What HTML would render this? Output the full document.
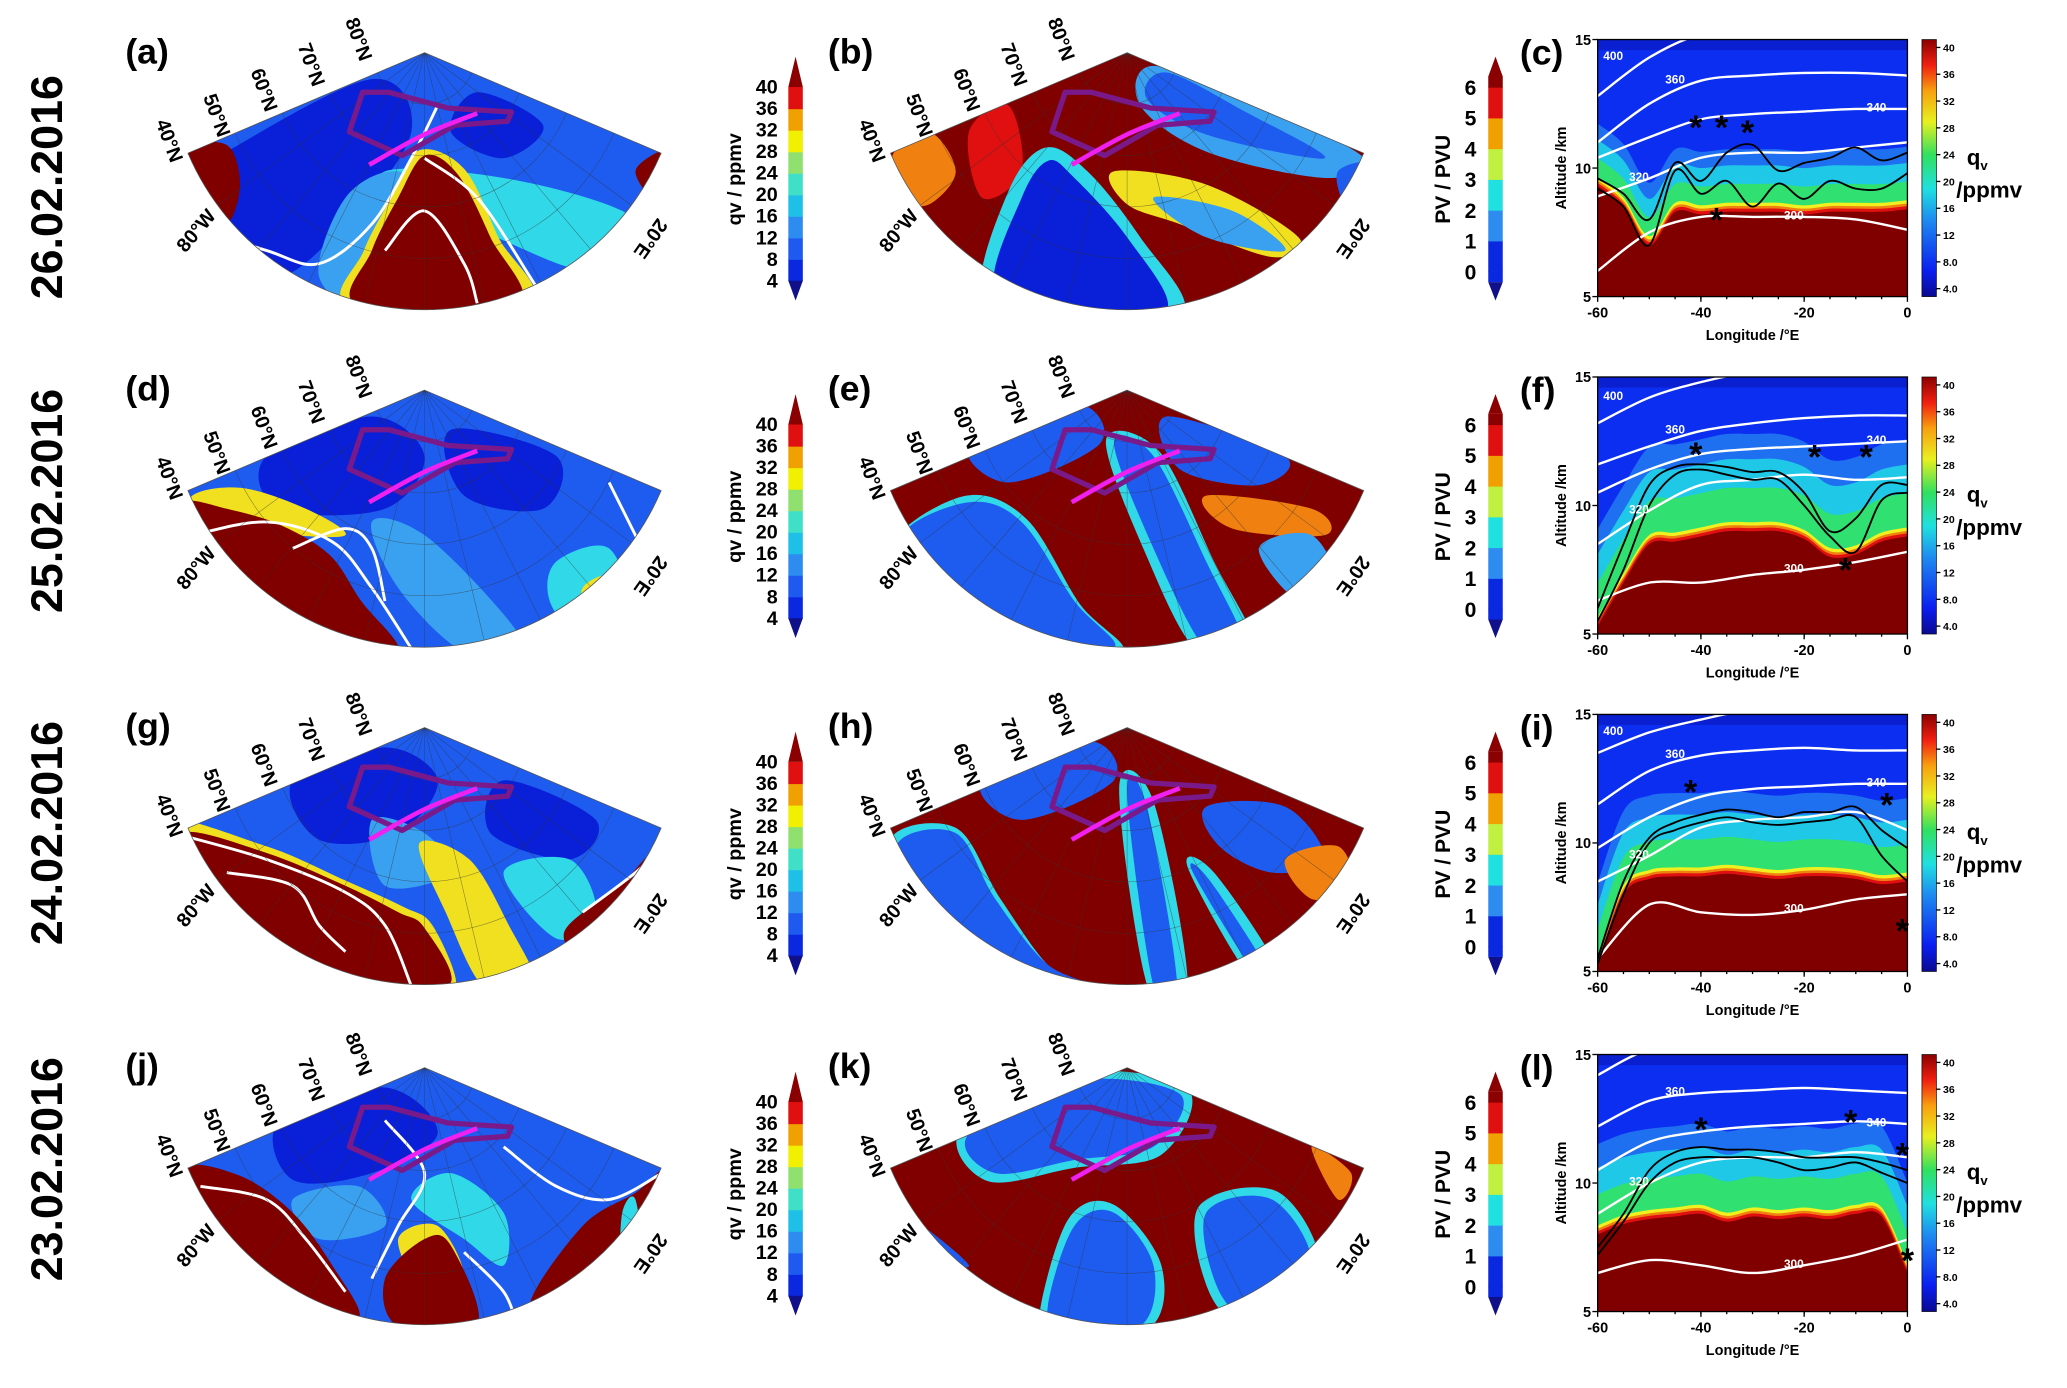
<!DOCTYPE html>
<html><head><meta charset="utf-8">
<style>
html,body{margin:0;padding:0;background:#fff;}
svg{display:block;font-family:"Liberation Sans",sans-serif;}
</style></head>
<body>
<svg id="fig" width="2067" height="1388" viewBox="0 0 1568 1053" xmlns="http://www.w3.org/2000/svg">
<defs>
<linearGradient id="jet" x1="0" y1="1" x2="0" y2="0">
<stop offset="0" stop-color="#0a0a90"/><stop offset="0.1" stop-color="#0a1ef0"/><stop offset="0.3" stop-color="#1e8cf0"/><stop offset="0.42" stop-color="#20e0e0"/><stop offset="0.55" stop-color="#30e060"/><stop offset="0.68" stop-color="#e8f020"/><stop offset="0.8" stop-color="#f8a010"/><stop offset="0.9" stop-color="#f02010"/><stop offset="1" stop-color="#8b0000"/>
</linearGradient>
</defs>
</svg>
<script>
const NS='http://www.w3.org/2000/svg';
const svg=document.getElementById('fig');
function mk(tag,attrs,parent){const e=document.createElementNS(NS,tag);for(const k in attrs)e.setAttribute(k,attrs[k]);(parent||svg).appendChild(e);return e;}
function txt(s,attrs,parent){const e=mk('text',attrs,parent);e.textContent=s;return e;}

// ---------- data ----------
const dates=['26.02.2016','25.02.2016','24.02.2016','23.02.2016'];
const rowOffsets=[0,256,512,770];
const dateY=[142,380,632,887];
const thetaLon=[-60,-50,-40,-30,-20,-10,0];
const fineLon=[-60,-55,-50,-45,-40,-35,-30,-25,-20,-15,-10,-5,0];
const theta400=[[12.8,14.3,15.2,15.3,15.3,15.3,15.3],[13.2,14.2,14.8,15.2,15.3,15.3,15.3],[13.5,14.3,14.8,15.2,15.3,15.3,15.3],[14.2,15.2,15.3,15.3,15.3,15.3,15.3]];
const theta360=[[11.0,12.5,13.4,13.6,13.7,13.7,13.6],[11.6,12.3,12.9,13.2,13.4,13.5,13.5],[11.5,12.8,13.4,13.6,13.7,13.6,13.6],[12.2,13.2,13.5,13.6,13.7,13.6,13.5]];
const theta340=[[10.4,11.2,11.9,12.1,12.2,12.3,12.3],[10.5,11.4,12.0,12.2,12.3,12.4,12.5],[9.8,11.0,11.8,12.1,12.2,12.3,12.3],[10.5,11.6,12.0,12.2,12.3,12.4,12.3]];
const theta320=[[8.9,9.6,10.4,10.6,10.6,10.8,11.0],[8.5,9.8,10.8,11.0,11.2,11.0,11.1],[8.5,9.5,10.6,10.9,11.0,11.2,10.5],[8.8,10.0,10.8,11.0,11.0,11.2,11.0]];
const theta300=[[6.0,7.5,8.1,8.1,8.1,8.0,7.6],[6.3,7.0,7.0,7.3,7.5,7.8,8.2],[5.5,7.6,7.3,7.2,7.4,7.8,8.0],[6.5,7.0,6.8,6.5,6.8,7.2,7.8]];
const tropo1=[[9.6,9.0,8.0,10.2,9.5,10.6,10.9,9.9,10.2,10.4,10.8,10.3,10.6],[6.0,8.5,10.8,11.5,11.6,11.5,11.3,11.3,10.5,9.0,9.5,10.8,10.8],[5.5,8.5,10.2,10.8,11.1,11.3,11.2,11.0,11.2,11.2,11.4,10.5,9.8],[7.5,8.8,10.5,11.2,11.4,11.3,11.3,11.2,11.0,11.0,11.0,10.8,10.5]];
const tropo2=[[9.2,8.5,7.0,9.9,9.0,9.5,8.5,9.4,8.8,9.5,9.2,9.2,9.8],[5.5,7.5,10.0,11.2,11.4,11.2,11.0,11.0,10.0,8.8,8.2,10.2,10.5],[5.3,8.0,10.0,10.5,10.8,11.0,10.8,10.7,10.8,10.9,11.0,9.5,8.5],[7.2,8.5,10.0,10.8,11.0,11.0,11.0,10.8,10.5,10.6,10.8,10.4,10.0]];
const moistTop=[[9.3,8.5,7.0,8.3,8.2,8.3,8.3,8.3,8.2,8.3,8.3,8.3,8.4],[5.3,7.0,8.5,8.6,8.8,9.0,9.0,9.0,8.7,8.0,8.1,8.6,8.8],[5.2,8.0,8.6,8.7,8.7,8.8,8.7,8.6,8.7,8.7,8.6,8.4,8.5],[8.0,8.4,8.6,8.7,8.8,8.5,8.7,8.6,8.7,8.6,8.8,8.7,6.5]];
const bandThick=[1.8,2.8,2.4,2.6];
const stars=[[[-41,11.8],[-36,11.8],[-31,11.6],[-37,8.2]],[[-41,12.2],[-18,12.1],[-8,12.1],[-12,7.7]],[[-42,12.2],[-4,11.7],[-1,6.8]],[[-40,12.3],[-11,12.6],[-1,11.3],[0,7.2]]];
const qvTicks=['40','36','32','28','24','20','16','12','8','4'];
const qvTicks2=['40','36','32','28','24','20','16','12','8.0','4.0'];
const pvTicks=['6','5','4','3','2','1','0'];
const xTicks=[-60,-40,-20,0];
const yTicks=[5,10,15];

// ---------- helpers ----------
function smoothClosed(p){let d='M'+p[0][0]+','+p[0][1];const n=p.length;for(let i=0;i<n;i++){const p0=p[(i-1+n)%n],p1=p[i],p2=p[(i+1)%n],p3=p[(i+2)%n];d+=' C'+(p1[0]+(p2[0]-p0[0])/6)+','+(p1[1]+(p2[1]-p0[1])/6)+' '+(p2[0]-(p3[0]-p1[0])/6)+','+(p2[1]-(p3[1]-p1[1])/6)+' '+p2[0]+','+p2[1];}return d+'Z';}
function smoothOpen(p){let d='M'+p[0][0]+','+p[0][1];for(let i=0;i<p.length-1;i++){const p0=p[Math.max(i-1,0)],p1=p[i],p2=p[i+1],p3=p[Math.min(i+2,p.length-1)];d+=' C'+(p1[0]+(p2[0]-p0[0])/6)+','+(p1[1]+(p2[1]-p0[1])/6)+' '+(p2[0]-(p3[0]-p1[0])/6)+','+(p2[1]-(p3[1]-p1[1])/6)+' '+p2[0]+','+p2[1];}return d;}

// ---------- fans ----------
const B='#1e5cf0',DB='#0a20d8',LB='#3aa0f0',CY='#30d8e8',YE='#f0e020',OR='#f08010',RD='#e01010',DR='#800000';
const fans=[
 {cx:322,base:B,shapes:[[DB,[[-150,75],[-40,20],[-10,60],[-60,130],[-120,170],[-175,95]]],[DB,[[40,30],[90,55],[60,80],[20,60]]],[CY,[[-30,90],[60,95],[150,120],[170,150],[120,165],[40,135],[-20,125]]],[LB,[[-60,110],[-20,90],[10,120],[-40,190],[-80,170]]],[YE,[[130,160],[160,125],[186,78],[186,110],[165,175],[118,190]]],[RD,[[150,150],[170,110],[186,80],[180,140],[150,180]]],[DR,[[160,90],[178,75],[186,80],[175,110]]],[YE,[[-4,74],[30,88],[56,140],[78,190],[-56,192],[-46,150],[-24,108]]],[DR,[[0,78],[25,92],[50,140],[70,192],[-50,192],[-40,150],[-20,110]]],[DR,[[-182,75],[-150,70],[-140,100],[-150,130],[-172,120]]]],white:[[[-180,130],[-120,150],[-80,160],[-40,130],[-10,80],[10,40]],[[0,80],[40,110],[80,170],[95,195]],[[-30,150],[0,120],[30,160],[40,190]]]},
 {cx:855,base:DR,shapes:[[OR,[[-178,78],[-150,60],[-130,90],[-150,115],[-170,110]]],[RD,[[-120,60],[-90,40],[-80,90],[-110,110]]],[CY,[[-110,185],[-90,105],[-62,72],[-30,90],[10,140],[42,197],[-50,199]]],[DB,[[-100,180],[-80,110],[-60,82],[-40,95],[0,140],[30,195],[-40,197]]],[LB,[[20,10],[100,40],[180,80],[150,95],[60,75],[10,40]]],[B,[[30,15],[90,45],[150,80],[60,62],[15,35]]],[YE,[[-10,90],[60,100],[130,140],[110,155],[40,130],[0,115]]],[LB,[[20,110],[80,120],[120,150],[60,140]]],[B,[[160,90],[185,85],[180,120],[165,115]]]],white:[]},
 {cx:322,base:B,shapes:[[DB,[[-120,50],[-40,20],[0,50],[-30,90],[-110,90]]],[DB,[[20,30],[100,50],[90,90],[30,80]]],[YE,[[-178,82],[-140,74],[-90,90],[-60,110],[-110,110],[-160,110]]],[LB,[[-40,100],[0,110],[60,170],[72,197],[30,199],[-20,150]]],[CY,[[100,130],[140,120],[155,170],[120,188],[95,160]]],[YE,[[120,150],[150,140],[150,175],[125,185]]],[DR,[[-182,85],[-150,90],[-110,102],[-72,125],[-48,160],[-20,196],[-60,192],[-110,178],[-150,148],[-176,112]]]],white:[[[-176,110],[-120,100],[-70,115],[-40,150],[-10,196]],[[-100,120],[-60,105],[-40,120],[-30,160]],[[140,70],[160,110],[170,130]]]},
 {cx:855,base:DR,shapes:[[B,[[-120,40],[-40,10],[-20,40],[-90,70]]],[CY,[[-176,115],[-122,80],[-76,98],[-36,162],[-4,198],[-84,190],[-144,156]]],[B,[[-170,110],[-120,85],[-80,100],[-40,160],[-10,195],[-80,185],[-140,150]]],[CY,[[-16,38],[24,46],[66,130],[98,198],[54,199],[14,124]]],[B,[[-10,40],[20,50],[60,130],[90,196],[60,197],[20,120]]],[B,[[30,20],[120,50],[100,72],[40,60]]],[OR,[[60,80],[140,90],[150,110],[80,105]]],[LB,[[100,120],[140,110],[160,150],[130,160]]]],white:[]},
 {cx:322,base:B,shapes:[[DB,[[-100,40],[-30,15],[10,40],[-20,80],[-80,85]]],[DB,[[60,40],[130,70],[110,100],[50,80]]],[LB,[[-40,70],[0,80],[20,110],[-30,120]]],[YE,[[-4,88],[34,100],[64,150],[84,196],[46,198],[16,140]]],[CY,[[60,110],[110,100],[130,140],[100,160]]],[DR,[[106,155],[150,118],[186,82],[178,132],[130,178]]],[YE,[[-186,76],[-120,90],[-60,116],[-16,136],[6,150],[24,196],[-4,198]]],[DR,[[-183,80],[-120,95],[-60,120],[-20,140],[0,152],[18,196],[-60,192],[-120,172],[-170,122]]]],white:[[[-183,82],[-120,100],[-60,125],[-30,150],[-10,196]],[[-150,110],[-100,120],[-80,150],[-60,170]],[[120,140],[160,110],[180,90]]]},
 {cx:855,base:DR,shapes:[[B,[[-110,40],[-30,10],[-10,40],[-80,70]]],[CY,[[-180,86],[-130,76],[-96,130],[-56,184],[-16,199],[-104,190],[-154,154]]],[B,[[-175,90],[-130,80],[-100,130],[-60,180],[-20,197],[-100,185],[-150,150]]],[CY,[[-6,46],[20,56],[46,196],[16,198]]],[B,[[0,50],[15,60],[38,195],[20,196]]],[CY,[[46,106],[66,110],[116,186],[94,190]]],[B,[[50,110],[62,115],[108,186],[98,188]]],[B,[[60,60],[120,60],[150,100],[110,110],[70,90]]],[OR,[[120,100],[160,90],[170,120],[140,130]]]],white:[]},
 {cx:322,base:B,shapes:[[DB,[[-110,40],[-30,15],[10,50],[-40,80],[-100,85]]],[CY,[[-10,100],[20,80],[60,110],[60,150],[30,130]]],[LB,[[-100,100],[-50,90],[-30,120],[-80,130]]],[YE,[[-20,130],[10,120],[30,160],[0,170]]],[DR,[[-182,78],[-140,82],[-100,110],[-70,150],[-50,190],[-100,180],[-150,140]]],[DR,[[-30,160],[0,130],[20,135],[40,195],[-20,196]]],[DR,[[80,180],[120,120],[160,95],[184,78],[172,140],[120,182]]],[CY,[[150,110],[160,100],[165,150],[150,150]]]],white:[[[-170,90],[-120,100],[-90,130],[-60,170]],[[-30,40],[0,80],[-20,120],[-40,160]],[[60,60],[100,90],[140,100],[180,80]],[[30,140],[60,170],[70,196]]]},
 {cx:855,base:DR,shapes:[[CY,[[-126,46],[-40,4],[46,16],[26,66],[-40,76],[-106,86]]],[B,[[-120,50],[-40,10],[40,20],[20,60],[-40,70],[-100,80]]],[CY,[[-66,184],[-44,114],[-10,104],[26,150],[16,198],[-56,199]]],[B,[[-60,180],[-40,120],[-10,110],[20,150],[10,196],[-50,197]]],[CY,[[54,106],[114,94],[146,152],[100,196],[64,174]]],[B,[[60,110],[110,100],[140,150],[100,190],[70,170]]],[B,[[-174,108],[-120,150],[-164,140]]],[OR,[[140,60],[170,80],[160,100]]]],white:[]}
];
const purplePath=[[-47,30],[-57,60],[-17,78],[23,55],[63,52],[66,45],[18,42],[-27,30]];
const magentaLine=[[-42,85],[0,62],[40,46]];

const R=195, A=67*Math.PI/180;
fans.forEach((f,i)=>{
 const row=Math.floor(i/2), oy=rowOffsets[row]+40, cx=f.cx;
 const g=mk('g',{'transform':`translate(${cx},${oy})`});
 
 
 const lx=-R*Math.sin(A), ly=R*Math.cos(A);
 const wedge=`M0,0 L${lx},${ly} A${R},${R} 0 0 0 ${-lx},${ly} Z`;
 const cp=mk('clipPath',{id:'clip'+i},g); mk('path',{d:wedge},cp);
 const inner=mk('g',{'clip-path':`url(#clip${i})`},g);
 mk('path',{d:wedge,fill:f.base},inner);
 f.shapes.forEach(s=>{mk('path',{d:smoothClosed(s[1]),fill:s[0]},inner);});
 f.white.forEach(w=>{mk('path',{d:smoothOpen(w),fill:'none',stroke:'#fff','stroke-width':2.2},inner);});
 // graticule
 for(let k=1;k<5;k++){const r=R*k/5;mk('path',{d:`M${-r*Math.sin(A)},${r*Math.cos(A)} A${r},${r} 0 0 0 ${r*Math.sin(A)},${r*Math.cos(A)}`,fill:'none',stroke:'#333','stroke-width':0.4,opacity:0.6},inner);}
 for(let k=1;k<10;k++){const a=-A+2*A*k/10;mk('line',{x1:0,y1:0,x2:R*Math.sin(a),y2:R*Math.cos(a),stroke:'#333','stroke-width':0.4,opacity:0.6},inner);}
 const pp=mk('path',{d:'M'+purplePath.map(p=>p.join(',')).join(' L')+'Z',fill:'none',stroke:'#7a1a8a','stroke-width':4,'stroke-linejoin':'round'},g);
 
 
 const ml=mk('path',{d:smoothOpen(magentaLine),fill:'none',stroke:'#f020f0','stroke-width':3.5},g);
 
 
 mk('path',{d:wedge,fill:'none',stroke:'#555','stroke-width':0.6},g);
 // labels
 const pl=txt('('+'abdeghjk'[i]+')',{x:(i%2?-227:-227),y:8,'font-size':27,'font-weight':'bold'},g);
 
 
 ['40°N','50°N','60°N','70°N','80°N'].forEach((l,k)=>{const r=R*(5-k)/5+16;const x=-r*Math.sin(A)-4,y=r*Math.cos(A)-14-k*4;const t=txt(l,{x:x,y:y,'font-size':15,'font-weight':'bold',transform:`rotate(70 ${x} ${y})`,'text-anchor':'middle'},g);});
 const w=txt('80°W',{x:lx+10,y:ly+62,'font-size':15,'font-weight':'bold',transform:`rotate(-50 ${lx+10} ${ly+62})`,'text-anchor':'middle'},g);
 
 
 const e=txt('20°E',{x:-lx-12,y:ly+62,'font-size':15,'font-weight':'bold',transform:`rotate(125 ${-lx-12} ${ly+62})`,'text-anchor':'middle'},g);
 
 
});

// ---------- dates ----------
dates.forEach((d,i)=>{const t=txt(d,{x:38,y:dateY[i],'font-size':34,'font-weight':'bold','text-anchor':'middle',transform:`rotate(-90 38 ${dateY[i]})`,'dominant-baseline':'middle'});});

// ---------- discrete colorbars ----------
const qvCols=['#0a28e0','#1e5af0','#2e8cf0','#1fc0e8','#40e0c8','#90e070','#f0f000','#f0a000','#e01010'];
const pvCols=['#0a28e0','#2e8cf0','#20e0e0','#c0f040','#f0a000','#e01010','#8b0000'];
rowOffsets.forEach((oy,r)=>{
 // qv bar
 const g=mk('g',{});  
 const x0=598,w=11,top=oy+66,bot=oy+213,n=qvTicks.length-1,h=(bot-top)/n;
 for(let k=0;k<n;k++) mk('rect',{x:x0,y:bot-(k+1)*h,width:w,height:h+0.5,fill:qvCols[k]},g);
 mk('path',{d:`M${x0},${top} L${x0+w/2},${oy+43} L${x0+w},${top}Z`,fill:'#8b0000'},g);
 mk('path',{d:`M${x0},${bot} L${x0+w/2},${oy+228} L${x0+w},${bot}Z`,fill:'#10108a'},g);
 qvTicks.forEach((t,k)=>txt(t,{x:590,y:top+k*h+5,'font-size':15,'font-weight':'bold','text-anchor':'end'},g));
 txt('qv / ppmv',{x:562,y:oy+136,'font-size':15,'font-weight':'bold','text-anchor':'middle',transform:`rotate(-90 562 ${oy+136})`},g);
 // pv bar
 const g2=mk('g',{});  
 const px=1129,ptop=oy+66,pbot=oy+206,ph=(pbot-ptop)/6;
 for(let k=0;k<6;k++) mk('rect',{x:px,y:pbot-(k+1)*ph,width:w,height:ph+0.5,fill:pvCols[k]},g2);
 mk('rect',{x:px,y:oy+58,width:w,height:ptop-oy-58+0.5,fill:'#8b0000'},g2);
 mk('path',{d:`M${px},${oy+58} L${px+w/2},${oy+43} L${px+w},${oy+58}Z`,fill:'#8b0000'},g2);
 mk('rect',{x:px,y:pbot,width:w,height:8,fill:'#0a28e0'},g2);
 mk('path',{d:`M${px},${pbot+8} L${px+w/2},${oy+228} L${px+w},${pbot+8}Z`,fill:'#10108a'},g2);
 pvTicks.forEach((t,k)=>txt(t,{x:1120,y:ptop+k*ph+6,'font-size':16,'font-weight':'bold','text-anchor':'end'},g2));
 txt('PV / PVU',{x:1100,y:oy+136,'font-size':16,'font-weight':'bold','text-anchor':'middle',transform:`rotate(-90 1100 ${oy+136})`},g2);
});

// ---------- cross sections ----------
const PX0=1212,PX1=1447;
rowOffsets.forEach((oy,r)=>{
 const PY0=oy+30,PY1=oy+225;
 const sx=v=>PX0+(v+60)/60*(PX1-PX0);
 const sy=v=>PY1-(v-5)/10*(PY1-PY0);
 const g=mk('g',{});  
 const cp=mk('clipPath',{id:'cs'+r},g); mk('rect',{x:PX0,y:PY0,width:PX1-PX0,height:PY1-PY0},cp);
 const inner=mk('g',{'clip-path':`url(#cs${r})`},g);
 mk('rect',{x:PX0,y:PY0,width:PX1-PX0,height:PY1-PY0,fill:'#0c2ef0'},inner);
 mk('rect',{x:PX0,y:PY0,width:PX1-PX0,height:8,fill:'#0a20d0'},inner);
 const bt=bandThick[r];
 const layers=[[bt*1.35,'#1e70f0'],[bt,'#20c8e8'],[bt*0.6,'#30e070'],[0.35,'#f0f020'],[0.22,'#f08010'],[0.12,'#e01010'],[0,'#800000']];
 layers.forEach(L=>{
  const pts=fineLon.map((lo,k)=>[sx(lo),sy(moistTop[r][k]+(L[0]?L[0]:0))]);
  const d=smoothOpen(pts)+` L${PX1},${PY1+2} L${PX0},${PY1+2}Z`;
  const p=mk('path',{d:d,fill:L[1]},inner);
  
  
 });
 [theta400,theta360,theta340,theta320,theta300].forEach((T,k)=>{
  const p=mk('path',{d:smoothOpen(thetaLon.map((lo,j)=>[sx(lo),sy(T[r][j])])),fill:'none',stroke:'#fff','stroke-width':1.8},inner);
  
  
 });
 [tropo1,tropo2].forEach(T=>{
  const p=mk('path',{d:smoothOpen(fineLon.map((lo,j)=>[sx(lo),sy(T[r][j])])),fill:'none',stroke:'#000','stroke-width':1.4},inner);
  
  
 });
 // theta labels
 [['400',-57,theta400,0.5],['360',-45,theta360,1.5],['340',-6,theta340,5.5],['320',-52,theta320,1],['300',-22,theta300,4]].forEach(l=>{
  const j=Math.round(l[3]); const v=l[2][r][j];
  txt(l[0],{x:sx(l[1]),y:sy(v+0.05)+3,'font-size':9,'font-weight':'bold',fill:'#fff','text-anchor':'middle'},inner);
 });
 stars[r].forEach(s=>{const t=txt('*',{x:sx(s[0]),y:sy(s[1])+13,'font-size':26,'font-weight':'bold','text-anchor':'middle'},g);});
 mk('rect',{x:PX0,y:PY0,width:PX1-PX0,height:PY1-PY0,fill:'none',stroke:'#000','stroke-width':1},g);
 xTicks.forEach(v=>{mk('line',{x1:sx(v),y1:PY1,x2:sx(v),y2:PY1+4,stroke:'#000'},g);txt(String(v),{x:sx(v),y:PY1+16,'font-size':11,'font-weight':'bold','text-anchor':'middle'},g);});
 for(let v=-55;v<0;v+=5) mk('line',{x1:sx(v),y1:PY1,x2:sx(v),y2:PY1+2,stroke:'#000'},g);
 yTicks.forEach(v=>{mk('line',{x1:PX0-4,y1:sy(v),x2:PX0,y2:sy(v),stroke:'#000'},g);txt(String(v),{x:PX0-5,y:sy(v)+4,'font-size':11,'font-weight':'bold','text-anchor':'end'},g);});
 txt('Longitude /°E',{x:(PX0+PX1)/2,y:PY1+33,'font-size':11,'font-weight':'bold','text-anchor':'middle'},g);
 txt('Altitude /km',{x:1188,y:(PY0+PY1)/2,'font-size':11,'font-weight':'bold','text-anchor':'middle',transform:`rotate(-90 1188 ${(PY0+PY1)/2})`},g);
 txt('('+'cfil'[r]+')',{x:1153,y:oy+49,'font-size':27,'font-weight':'bold'},g);
 // colorbar
 const cb=mk('g',{},g);  
 mk('rect',{x:1458,y:PY0,width:11,height:PY1-PY0,fill:'url(#jet)',stroke:'#000','stroke-width':0.5},cb);
 qvTicks2.forEach((t,k)=>{const y=PY0+6+k*(PY1-PY0-12)/9;mk('line',{x1:1469,y1:y,x2:1472,y2:y,stroke:'#000'},cb);txt(t,{x:1474,y:y+3,'font-size':8,'font-weight':'bold'},cb);});
 const q=txt('q',{x:1492,y:oy+125,'font-size':17,'font-weight':'bold'},g); const sub=mk('tspan',{'font-size':10,dy:4},q); sub.textContent='v';
 txt('/ppmv',{x:1484,y:oy+150,'font-size':17,'font-weight':'bold'},g);
});
</script>
</body></html>
